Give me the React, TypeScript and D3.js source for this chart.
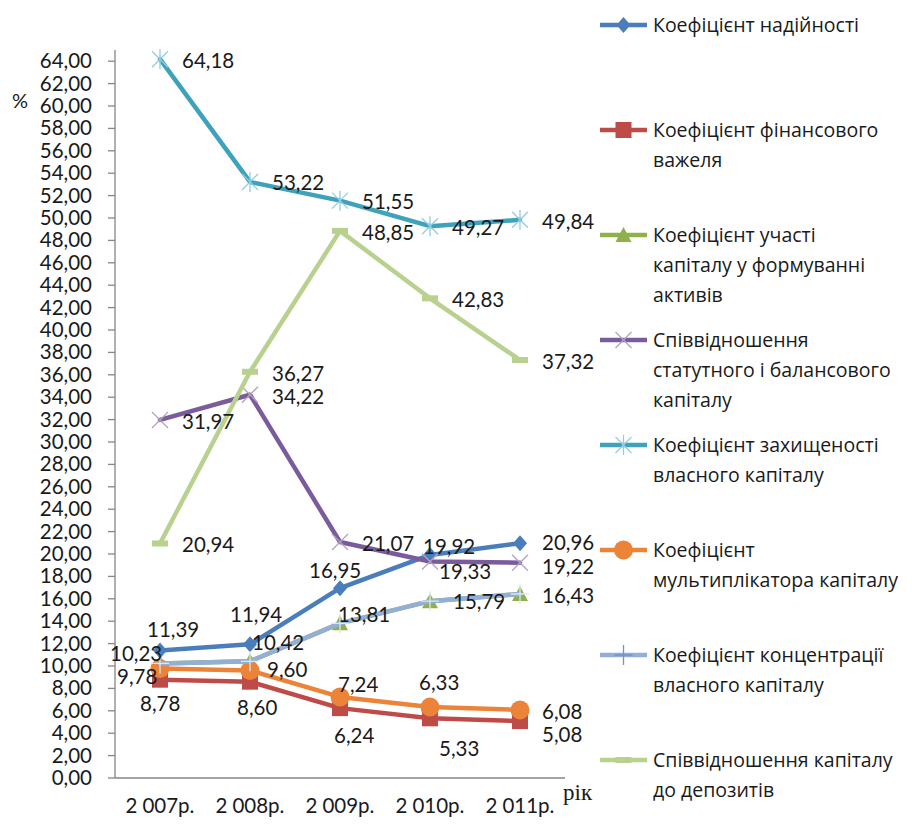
import React from 'react'
import * as d3 from 'd3'

const years = ['2007р.', '2008р.', '2009р.', '2010р.', '2011р.']

const reliability = [11.39, 11.94, 16.95, 19.92, 20.96]
const leverage = [8.78, 8.6, 6.24, 5.33, 5.08]
const participation = [10.23, 10.42, 13.81, 15.79, 16.43]
const charterRatio = [31.97, 34.22, 21.07, 19.33, 19.22]
const protection = [64.18, 53.22, 51.55, 49.27, 49.84]
const multiplier = [9.78, 9.6, 7.24, 6.33, 6.08]
const concentration = [10.23, 10.42, 13.81, 15.79, 16.43]
const depositRatio = [20.94, 36.27, 48.85, 42.83, 37.32]

const yTicks = d3.range(0, 65, 2)

type Marker = 'diamond' | 'square' | 'triangle' | 'x' | 'star' | 'circle' | 'plus' | 'dash'

interface Series {
  name: string[]
  values: number[]
  color: string
  markColor: string
  marker: Marker
  labels: boolean
}

const series: Series[] = [
  { name: ['Коефіцієнт надійності'], values: reliability, color: '#4a7ebb', markColor: '#4a7ebb', marker: 'diamond', labels: true },
  { name: ['Коефіцієнт фінансового', 'важеля'], values: leverage, color: '#be4b48', markColor: '#be4b48', marker: 'square', labels: true },
  { name: ['Коефіцієнт участі', 'капіталу у формуванні', 'активів'], values: participation, color: '#8fb04a', markColor: '#8fb04a', marker: 'triangle', labels: false },
  { name: ['Співвідношення', 'статутного і балансового', 'капіталу'], values: charterRatio, color: '#7a5b9c', markColor: '#b3a2c7', marker: 'x', labels: true },
  { name: ['Коефіцієнт захищеності', 'власного капіталу'], values: protection, color: '#3fa2bd', markColor: '#93cddd', marker: 'star', labels: true },
  { name: ['Коефіцієнт', 'мультиплікатора капіталу'], values: multiplier, color: '#eb8438', markColor: '#eb8438', marker: 'circle', labels: true },
  { name: ['Коефіцієнт концентрації', 'власного капіталу'], values: concentration, color: '#93afd6', markColor: '#dce6f2', marker: 'plus', labels: true },
  { name: ['Співвідношення капіталу', 'до депозитів'], values: depositRatio, color: '#b9d18e', markColor: '#b9d18e', marker: 'dash', labels: true },
]

// label offsets from the point: [dx, dy to baseline], text anchored at start
const labelOffsets: [number, number][][] = [
  [[-13, -13], [-20, -22], [-31, -10], [-7, -1], [22, 7]],
  [[-20, 31], [-13, 33], [-6, 35], [9, 38], [22, 21]],
  [[22, 9], [22, 9], [22, 9], [22, 9], [22, 9]],
  [[22, 9], [22, 9], [22, 9], [9, 17], [22, 11]],
  [[22, 9], [22, 8], [22, 8], [22, 9], [22, 9]],
  [[-43, 16], [17, 7], [-2, -5], [-11, -17], [22, 9]],
  [[-50, -2], [2, -11], [-2, -1], [23, 8], [22, 9]],
  [[22, 9], [22, 9], [22, 9], [22, 9], [22, 9]],
]

const fmt = (v: number) => d3.format('.2f')(v).replace('.', ',')

function MarkerShape({ type, x, y, fill, stroke }: { type: Marker; x: number; y: number; fill: string; stroke: string }) {
  const t = `translate(${x},${y})`
  switch (type) {
    case 'diamond':
      return <path transform={t} d="M0,-8L7,0L0,8L-7,0Z" fill={fill} />
    case 'square':
      return <rect x={x - 8} y={y - 8} width={16} height={16} fill={fill} />
    case 'triangle':
      return <path transform={t} d="M0,-8L8,7L-8,7Z" fill={fill} />
    case 'circle':
      return <circle cx={x} cy={y} r={9.5} fill={fill} />
    case 'x':
      return <path transform={t} d="M-8,-8L8,8M-8,8L8,-8" stroke={stroke} strokeWidth={1.3} fill="none" />
    case 'star':
      return <path transform={t} d="M-8,-8L8,8M-8,8L8,-8M0,-10L0,10" stroke={stroke} strokeWidth={1.3} fill="none" />
    case 'plus':
      return <path transform={t} d="M0,-10L0,10M-9,0L9,0" stroke={stroke} strokeWidth={1.3} fill="none" />
    case 'dash':
      return <rect x={x - 8} y={y - 3} width={16} height={6} fill={fill} />
  }
}

export default function App() {
  const width = 912
  const height = 830
  const left = 115
  const right = 565
  const bottom = 778

  const x = d3.scaleBand<string>().domain(years).range([left, right])
  const y = d3.scaleLinear().domain([0, 65]).range([bottom, 50])
  const cx = (i: number) => (x(years[i]) ?? 0) + x.bandwidth() / 2

  const line = d3.line<number>().x((_, i) => cx(i)).y(d => y(d))

  const numFont = 'Lato, "Open Sans", sans-serif'
  const textFont = '"Open Sans", "Noto Sans", sans-serif'

  const legendTop = 25
  const legendStep = 105

  return (
    <svg width={width} height={height} style={{ position: 'absolute', left: 0, top: 0, background: '#fff' }}>
      {/* y axis */}
      <line x1={left} x2={left} y1={y(65)} y2={bottom} stroke="#868686" strokeWidth={1.3} />
      {yTicks.map(t => (
        <g key={t}>
          <line x1={left - 7} x2={left} y1={y(t)} y2={y(t)} stroke="#868686" strokeWidth={1.3} />
          <text x={92} y={y(t) + 7} textAnchor="end" fontFamily={numFont} fontSize={20.5} fill="#1a1a1a">
            {fmt(t)}
          </text>
        </g>
      ))}
      <text x={12} y={108} fontFamily={numFont} fontSize={20} fill="#1a1a1a">%</text>

      {/* x axis */}
      <line x1={left} x2={right} y1={bottom} y2={bottom} stroke="#868686" strokeWidth={1.3} />
      {years.map((yr, i) => (
        <text key={yr} x={cx(i)} y={813} textAnchor="middle" fontFamily={numFont} fontSize={20.5} fill="#1a1a1a">
          <tspan>{yr.slice(0, 1)}</tspan>
          <tspan dx={5}>{yr.slice(1)}</tspan>
        </text>
      ))}
      <text x={563} y={800} fontFamily='"Liberation Serif", serif' fontSize={23} fill="#1a1a1a">рік</text>

      {/* series */}
      {series.map((s, si) => (
        <g key={si}>
          <path d={line(s.values) ?? ''} fill="none" stroke={s.color} strokeWidth={4.5} strokeLinejoin="round" strokeLinecap="round" />
          {s.values.map((v, i) => (
            <MarkerShape key={i} type={s.marker} x={cx(i)} y={y(v)} fill={s.markColor} stroke={s.markColor} />
          ))}
        </g>
      ))}

      {/* data labels */}
      {series.map((s, si) =>
        s.labels
          ? s.values.map((v, i) => (
              <text
                key={`${si}-${i}`}
                x={cx(i) + labelOffsets[si][i][0]}
                y={y(v) + labelOffsets[si][i][1]}
                fontFamily={numFont}
                fontSize={20.5}
                fill="#1a1a1a"
              >
                {fmt(v)}
              </text>
            ))
          : null
      )}

      {/* legend */}
      {series.map((s, si) => {
        const ly = legendTop + si * legendStep
        return (
          <g key={si}>
            <line x1={600} x2={647} y1={ly} y2={ly} stroke={s.color} strokeWidth={4.5} />
            <MarkerShape type={s.marker} x={623.5} y={ly} fill={s.markColor} stroke={s.marker === 'plus' ? '#6f95c9' : s.markColor} />
            {s.name.map((ln, li) => (
              <text key={li} x={653} y={ly + li * 30 + 7} fontFamily={textFont} fontSize={19.5} fill="#1a1a1a">
                {ln}
              </text>
            ))}
          </g>
        )
      })}
    </svg>
  )
}
